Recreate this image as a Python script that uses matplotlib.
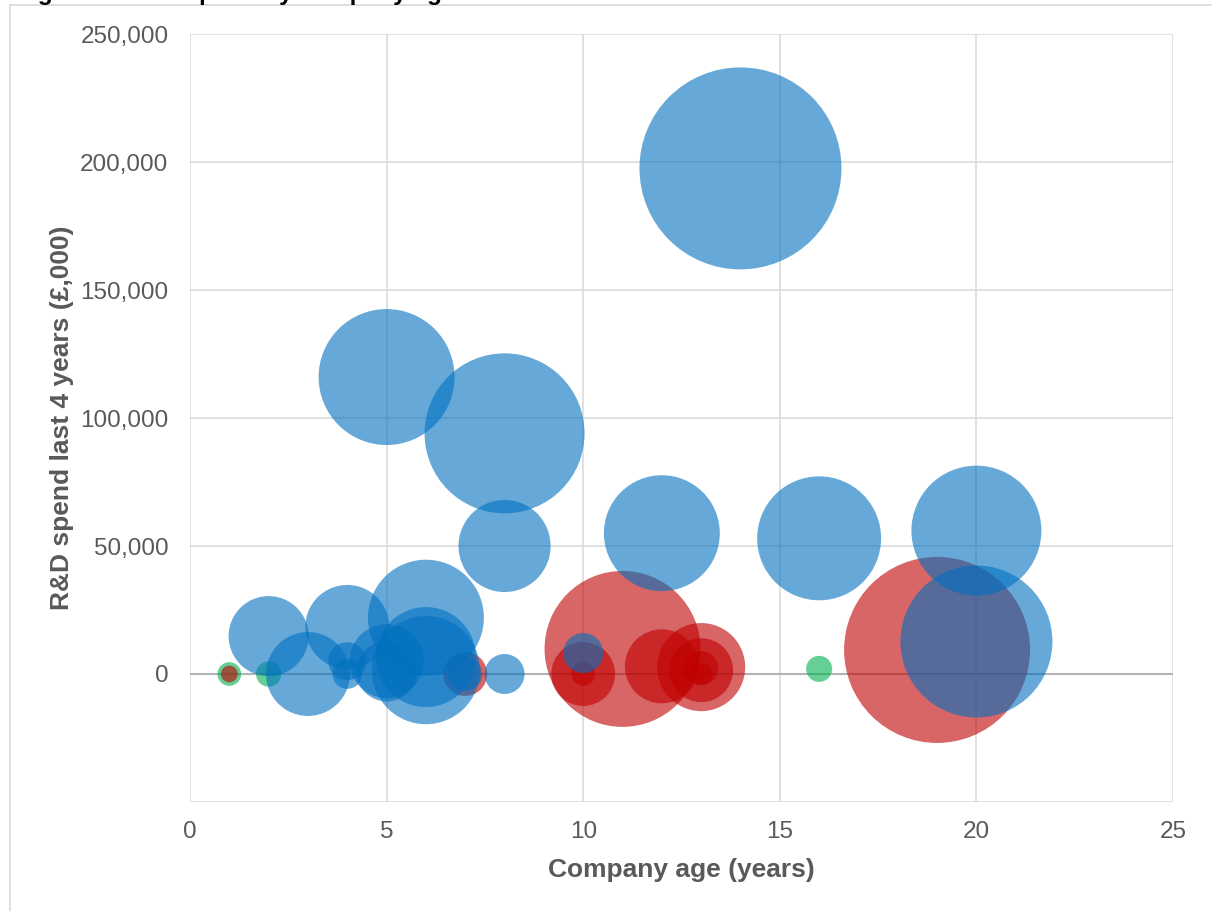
import matplotlib
matplotlib.use("Agg")
import matplotlib.pyplot as plt
from matplotlib.lines import Line2D
from matplotlib.ticker import FuncFormatter

plt.rcParams['font.family'] = ['Liberation Sans', 'DejaVu Sans']

# ---------------- data ----------------
title = "Figure 5: R&D spend by company age"
x_label = "Company age (years)"
y_label = "R&D spend last 4 years (£,000)"

# green series
green_age = [1, 2, 16]
green_spend = [0, 0, 2000]
green_size = [14, 16, 17]

# red series
red_age = [11, 19, 10, 10, 12, 13, 13, 13, 13, 7, 1]
red_spend = [9800, 9400, 0, 0, 3000, 2700, 1500, 2300, 0, 0, 0]
red_size = [608, 865, 102, 14, 137, 194, 102, 29, 12, 48, 7]

# blue series
blue_age = [14, 5, 8, 8, 12, 16, 20, 20, 6, 6, 6, 2, 3, 4, 4, 4, 5, 5, 7, 8, 10]
blue_spend = [197500, 116000, 94000, 50000, 55000, 53000, 56000, 12700,
              22000, 6600, 1500, 14800, 0, 18400, 5000, 0, 5000, 1000, 0, 0, 8200]
blue_size = [1020, 462, 640, 212, 336, 384, 422, 578,
             336, 250, 292, 160, 176, 176, 36, 22, 137, 90, 29, 40, 40]

x_ticks = [0, 5, 10, 15, 20, 25]
y_ticks = [-50000, 0, 50000, 100000, 150000, 200000, 250000]

# ---------------- figure ----------------
W, H = 1212, 911
fig = plt.figure(figsize=(W / 100, H / 100), dpi=100)
ax = fig.add_axes([190 / W, 1 - 802 / H, (1173 - 190) / W, (802 - 34) / H])

SIZE_SCALE = 20.736
alpha = 0.6
for xs, ys, ss, col, z in [(green_age, green_spend, green_size, '#00B050', 3),
                           (red_age, red_spend, red_size, '#C00000', 4),
                           (blue_age, blue_spend, blue_size, '#0070C0', 5)]:
    ax.scatter(xs, ys, s=[v * SIZE_SCALE for v in ss], color=col, alpha=alpha,
               linewidths=0, zorder=z)

ax.set_xlim(0, 25)
ax.set_ylim(-50000, 250000)
ax.set_xticks(x_ticks)
ax.set_yticks(y_ticks)
ax.yaxis.set_major_formatter(FuncFormatter(lambda v, p: "" if v < 0 else f"{int(v):,}"))
ax.xaxis.set_major_formatter(FuncFormatter(lambda v, p: f"{int(v)}"))

ax.set_axisbelow(True)
ax.grid(True, color='#d9d9d9', linewidth=1.1, zorder=0)
ax.axhline(0, color='#b3b3b3', linewidth=1.5, zorder=1)
for sp in ax.spines.values():
    sp.set_visible(False)
ax.tick_params(length=0, labelsize=17.5, labelcolor='#595959')
ax.tick_params(axis='y', pad=15.5)
ax.tick_params(axis='x', pad=14)

ax.set_xlabel(x_label, fontsize=19, fontweight='bold', color='#595959')
ax.set_ylabel(y_label, fontsize=19, fontweight='bold', color='#595959')
ax.xaxis.set_label_coords(0.5, (802 - 870) / 768)
ax.yaxis.set_label_coords((62 - 190) / 983, 0.5)
ax.xaxis.label.set_va('center')
ax.yaxis.label.set_va('center')

# chart-area border (partially visible)
fig.add_artist(Line2D([10 / W, 10 / W], [0, 1 - 5 / H], transform=fig.transFigure,
                      color='#d9d9d9', linewidth=1.2))
fig.add_artist(Line2D([10 / W, 1], [1 - 5 / H, 1 - 5 / H], transform=fig.transFigure,
                      color='#d9d9d9', linewidth=1.2))

# title (mostly cut off at top of image)
fig.text(16 / W, 1.0, title, fontsize=17.6, fontweight='bold', color='black',
         ha='left', va='baseline')

fig.savefig("out.png", dpi=100)
